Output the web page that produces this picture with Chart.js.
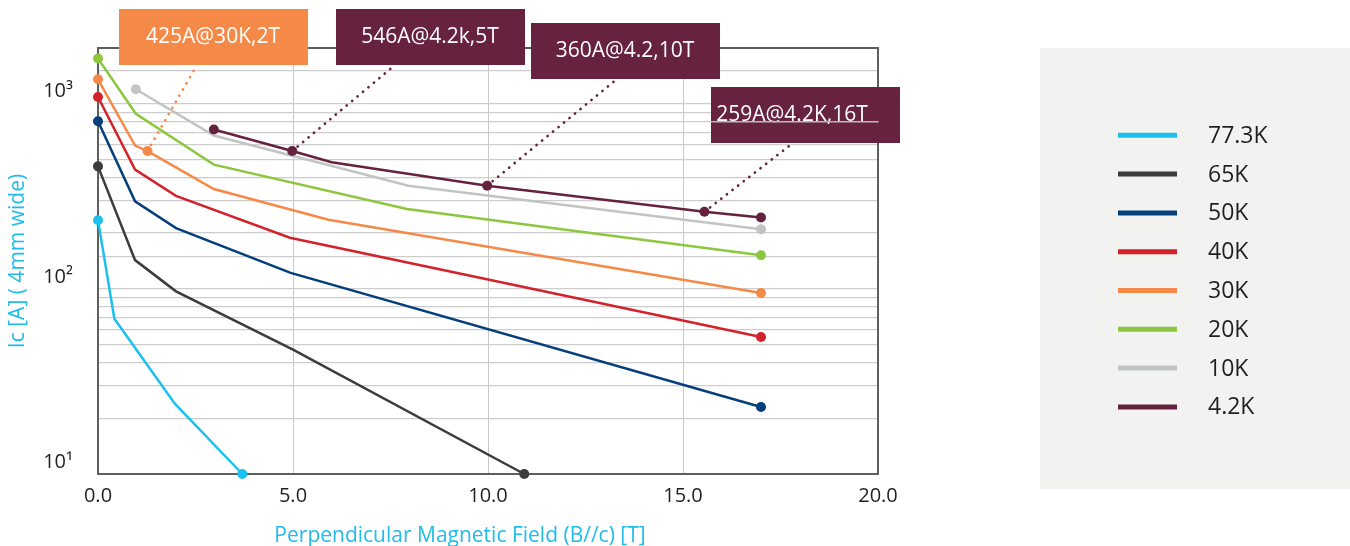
<!DOCTYPE html>
<html>
<head>
<meta charset="utf-8">
<script src="https://cdn.jsdelivr.net/npm/chart.js@4.4.0/dist/chart.umd.min.js"></script>
<style>
  html, body { margin: 0; padding: 0; background: #fff; }
  #wrap { width: 1350px; height: 546px; position: relative; }
</style>
</head>
<body>
<div id="wrap"><canvas id="chart"></canvas></div>
<script>
// === DATA ===
const seriesNames = ['77.3K', '65K', '50K', '40K', '30K', '20K', '10K', '4.2K'];

// field [T] and Ic [A] per temperature
const field773 = [0, 0.42, 1.97, 3.7];
const ic773    = [235, 69, 24, 10];
const field65  = [0, 0.95, 2.0, 5.0, 10.93];
const ic65     = [459, 143, 97, 47, 10];
const field50  = [0, 0.95, 2.0, 4.94, 17.0];
const ic50     = [805, 297, 213, 122, 23];
const field40  = [0, 0.95, 2.0, 4.92, 17.0];
const ic40     = [1087, 441, 318, 189, 55];
const field30  = [0, 0.95, 1.27, 2.97, 5.91, 17.0];
const ic30     = [1355, 594, 555, 346, 236, 95];
const field20  = [0, 0.97, 2.97, 7.92, 17.0];
const ic20     = [1754, 883, 469, 270, 152];
const field10  = [0.97, 2.97, 7.96, 17.0];
const ic10     = [1197, 673, 361, 210];
const field42  = [2.97, 4.98, 5.99, 9.98, 15.55, 17.0];
const ic42     = [726, 555, 483, 361, 261, 243];

const fieldSets = [field773, field65, field50, field40, field30, field20, field10, field42];
const icSets    = [ic773, ic65, ic50, ic40, ic30, ic20, ic10, ic42];

// callouts: label, series, point index
const calloutText   = ['425A@30K,2T', '546A@4.2k,5T', '360A@4.2,10T', '259A@4.2K,16T'];
const calloutSeries = [4, 7, 7, 7];
const calloutIndex  = [2, 1, 3, 4];

// axis ticks
const xTickValues = [0, 5, 10, 15, 20];
const yTickValues = [10, 100, 1000];
const yTickLabels = ['10\u00B9', '10\u00B2', '10\u00B3'];

// === STYLE ===
const lineColors = ['#1bc0ef', '#3c3c3c', '#043f7d', '#d3222a', '#f58a48', '#8dc63f', '#c1c5c1', '#65223f'];
const cyan = '#1fbcec';
const textDark = '#231f20';
const FONT = '"Open Sans", "Noto Sans", sans-serif';

// callout boxes placement (pixels)
const calloutBoxes = [
  { x: 119, y: 9,  w: 189, h: 56, color: '#f58a48', tx: 213, ax: 197 },
  { x: 336, y: 9,  w: 189, h: 56, color: '#66223f', tx: 430, ax: 395 },
  { x: 531, y: 23, w: 189, h: 56, color: '#66223f', tx: 625, ax: 617 },
  { x: 711, y: 87, w: 189, h: 56, color: '#66223f', tx: 792, ax: 793, gridThrough: 800 }
];

// marker indices: first, last and callout points
function markerSet(si) {
  const s = new Set([0, icSets[si].length - 1]);
  calloutSeries.forEach((c, k) => { if (c === si) s.add(calloutIndex[k]); });
  return s;
}

const datasets = seriesNames.map((name, i) => {
  const marks = markerSet(i);
  return {
    label: name,
    data: fieldSets[i].map((x, j) => ({ x: x, y: icSets[i][j] })),
    borderColor: lineColors[i],
    backgroundColor: lineColors[i],
    borderWidth: 2.5,
    tension: 0,
    clip: false,
    order: seriesNames.length - i,
    pointRadius: (ctx) => marks.has(ctx.dataIndex) ? 5 : 0,
    pointBorderWidth: 0,
    pointHoverRadius: 0
  };
});

// === EXTRA DRAWING: frame, callouts, legend panel, x title ===
const extras = {
  id: 'extras',
  beforeDraw(chart) {
    const { ctx } = chart;
    ctx.save();
    ctx.fillStyle = '#f2f2f0';
    ctx.fillRect(1040, 48, 310, 441);
    ctx.restore();
  },
  beforeDatasetsDraw(chart) {
    const { ctx, chartArea: a } = chart;
    ctx.save();
    ctx.strokeStyle = '#5e5e5e';
    ctx.lineWidth = 2;
    ctx.strokeRect(a.left, a.top, a.right - a.left, a.bottom - a.top);
    ctx.restore();
  },
  afterDatasetsDraw(chart) {
    const { ctx, chartArea: a } = chart;
    calloutText.forEach((text, k) => {
      const pt = chart.getDatasetMeta(calloutSeries[k]).data[calloutIndex[k]];
      const b = calloutBoxes[k];
      ctx.save();
      // dotted leader
      ctx.strokeStyle = b.color;
      ctx.lineWidth = 2.7;
      ctx.lineCap = 'round';
      ctx.setLineDash([0.1, 7]);
      ctx.beginPath();
      ctx.moveTo(pt.x, pt.y);
      ctx.lineTo(b.ax, b.y + b.h);
      ctx.stroke();
      ctx.setLineDash([]);
      // box
      ctx.fillStyle = b.color;
      ctx.fillRect(b.x, b.y, b.w, b.h);
      ctx.fillStyle = '#ffffff';
      ctx.font = '21px ' + FONT;
      ctx.textAlign = 'center';
      ctx.textBaseline = 'middle';
      ctx.fillText(text, b.tx, b.y + b.h / 2);
      if (b.gridThrough) {
        const gy = chart.scales.y.getPixelForValue(b.gridThrough);
        ctx.strokeStyle = '#b9b9b9';
        ctx.lineWidth = 1.5;
        ctx.beginPath();
        ctx.moveTo(b.x, gy);
        ctx.lineTo(a.right, gy);
        ctx.stroke();
      }
      ctx.restore();
    });
  },
  afterDraw(chart) {
    const { ctx } = chart;
    ctx.save();
    // legend
    chart.data.datasets.forEach((ds, i) => {
      const y = 135.3 + i * 38.8;
      ctx.strokeStyle = ds.borderColor;
      ctx.lineWidth = 5;
      ctx.beginPath();
      ctx.moveTo(1118, y);
      ctx.lineTo(1177, y);
      ctx.stroke();
      ctx.fillStyle = textDark;
      ctx.font = '23px ' + FONT;
      ctx.textAlign = 'left';
      ctx.textBaseline = 'middle';
      ctx.fillText(ds.label, 1208, y + 1);
    });
    // x axis title
    ctx.fillStyle = cyan;
    ctx.font = '21px ' + FONT;
    ctx.textAlign = 'center';
    ctx.textBaseline = 'alphabetic';
    ctx.fillText('Perpendicular Magnetic Field (B//c) [T]', 460, 541.5);
    ctx.restore();
  }
};

const ctx = document.getElementById('chart').getContext('2d');
const chart = new Chart(ctx, {
  type: 'line',
  data: { datasets: datasets },
  plugins: [extras],
  options: {
    responsive: true,
    maintainAspectRatio: false,
    animation: false,
    layout: { padding: { top: 48, right: 472, left: 0, bottom: 0 } },
    plugins: {
      legend: { display: false },
      tooltip: { enabled: false }
    },
    scales: {
      x: {
        type: 'linear',
        min: 0,
        max: 20,
        afterBuildTicks: (scale) => { scale.ticks = xTickValues.map(v => ({ value: v })); },
        afterFit: (scale) => { scale.height = 72; },
        grid: { color: '#c8c8c8', lineWidth: 1, drawTicks: false },
        border: { color: '#5e5e5e', width: 2 },
        ticks: {
          padding: 10,
          color: textDark,
          font: { family: FONT, size: 20 },
          callback: (v) => Number(v).toFixed(1)
        }
      },
      y: {
        type: 'logarithmic',
        min: 10,
        max: 2000,
        afterFit: (scale) => { scale.width = 98; },
        grid: { color: '#cdcdcd', lineWidth: 1.3, drawTicks: false },
        border: { color: '#5e5e5e', width: 2 },
        ticks: {
          autoSkip: false,
          padding: 25,
          labelOffset: -12,
          color: textDark,
          font: { family: FONT, size: 20 },
          callback: (v) => {
            const k = yTickValues.indexOf(Number(v));
            return k >= 0 ? yTickLabels[k] : '';
          }
        },
        title: {
          display: true,
          text: 'Ic [A] ( 4mm wide)',
          color: cyan,
          font: { family: FONT, size: 21 },
          padding: { top: 5, bottom: 0 }
        }
      }
    }
  }
});
</script>
</body>
</html>
